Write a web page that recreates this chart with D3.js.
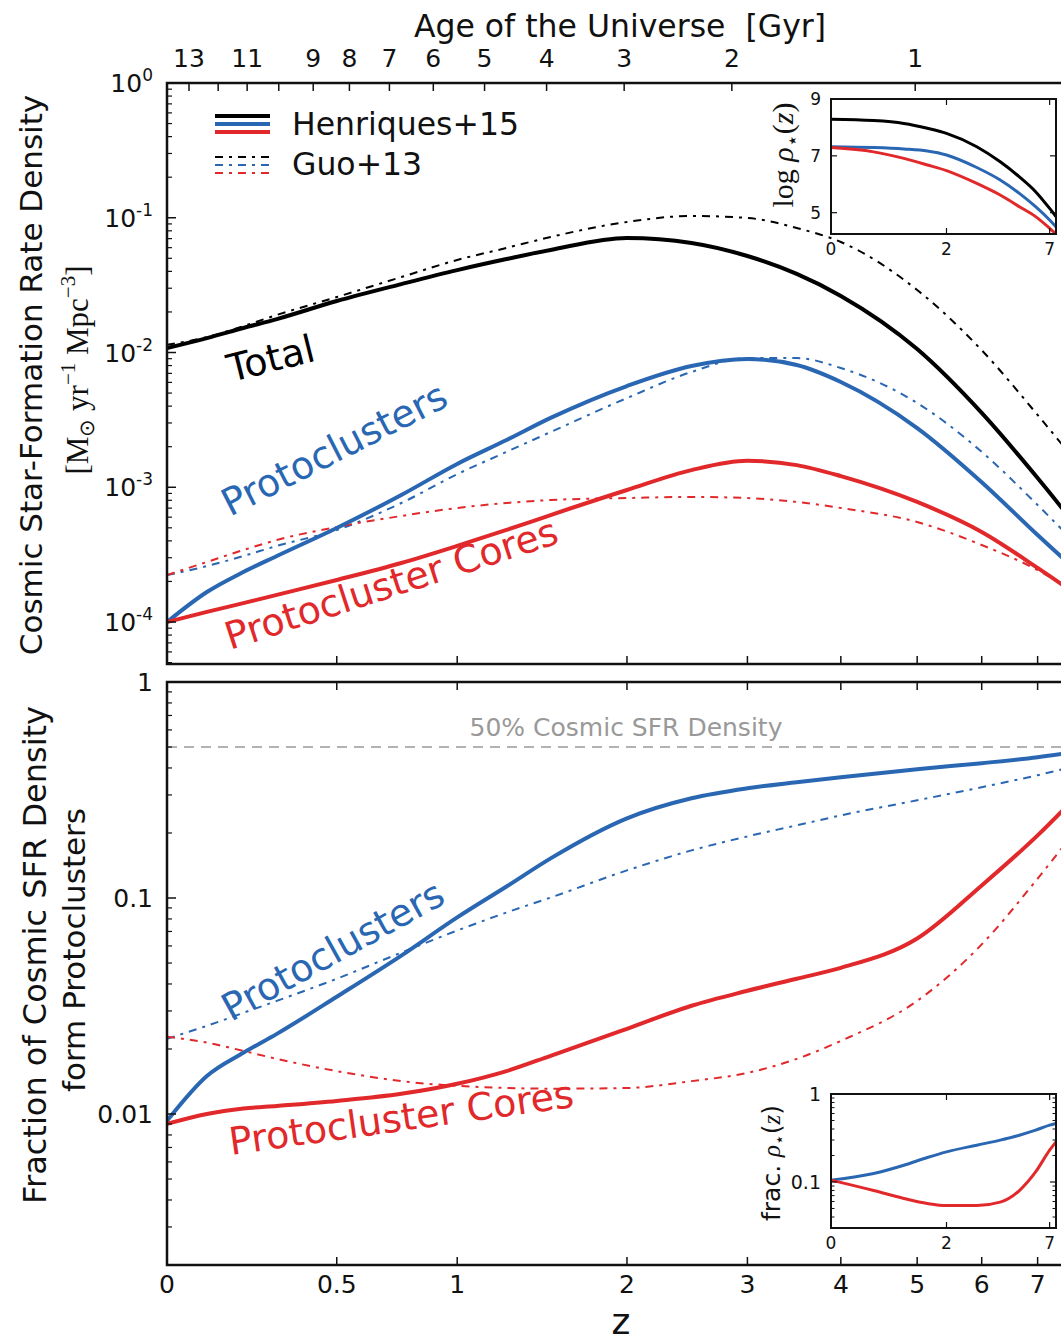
<!DOCTYPE html>
<html>
<head>
<meta charset="utf-8">
<script src="https://cdn.jsdelivr.net/npm/d3@7"></script>
<style>
body { margin: 0; background: #fff; }
text { font-family: "DejaVu Sans", sans-serif; fill: #111; }
</style>
</head>
<body>
<svg id="chart" width="1061" height="1343"></svg>
<script>
// redshift grid the curves were read at
var zGrid = [0, 0.1, 0.2, 0.3, 0.5, 0.75, 1, 1.25, 1.5, 2, 2.5, 3, 3.5, 4, 5, 6, 7, 8];

// cosmic SFR density [Msun/yr/Mpc^3]
var sfrTotalH15 = [0.0108, 0.0128, 0.0152, 0.0177, 0.0241, 0.0322, 0.0409, 0.0494, 0.0577, 0.0708, 0.0650, 0.0520, 0.0383, 0.0263, 0.0106, 0.00356, 0.00117, 0.00041];
var sfrTotalG13 = [0.0114, 0.0130, 0.0157, 0.0190, 0.0258, 0.0363, 0.0486, 0.0597, 0.0720, 0.0930, 0.1031, 0.0996, 0.0839, 0.0661, 0.0291, 0.0104, 0.00344, 0.00123];
var sfrProtoH15 = [1.0e-4, 1.67e-4, 2.35e-4, 3.09e-4, 4.99e-4, 8.76e-4, 1.49e-3, 2.24e-3, 3.27e-3, 5.64e-3, 7.94e-3, 8.95e-3, 8.07e-3, 6.04e-3, 2.75e-3, 1.09e-3, 4.42e-4, 2.05e-4];
var sfrProtoG13 = [2.23e-4, 2.60e-4, 3.09e-4, 3.67e-4, 4.82e-4, 7.64e-4, 1.25e-3, 1.83e-3, 2.57e-3, 4.59e-3, 7.17e-3, 9.10e-3, 9.10e-3, 7.67e-3, 4.22e-3, 1.83e-3, 7.38e-4, 3.14e-4];
var sfrCoresH15 = [1.0e-4, 1.19e-4, 1.38e-4, 1.59e-4, 2.05e-4, 2.74e-4, 3.67e-4, 4.82e-4, 6.22e-4, 9.54e-4, 1.34e-3, 1.57e-3, 1.46e-3, 1.21e-3, 7.78e-4, 4.66e-4, 2.52e-4, 1.41e-4];
var sfrCoresG13 = [2.23e-4, 2.79e-4, 3.42e-4, 4.06e-4, 5.07e-4, 6.12e-4, 7.02e-4, 7.64e-4, 8.04e-4, 8.32e-4, 8.47e-4, 8.32e-4, 7.78e-4, 7.02e-4, 5.52e-4, 3.73e-4, 2.43e-4, 1.46e-4];

// fraction of cosmic SFR density in protoclusters
var fracProtoH15 = [0.0093, 0.0150, 0.0192, 0.0235, 0.0349, 0.0541, 0.0813, 0.1130, 0.1526, 0.2339, 0.2897, 0.3222, 0.3436, 0.3624, 0.3947, 0.4209, 0.4487, 0.4832];
var fracProtoG13 = [0.0223, 0.0256, 0.0294, 0.0334, 0.0423, 0.0559, 0.0707, 0.0857, 0.1005, 0.1342, 0.1661, 0.1928, 0.2169, 0.2413, 0.2833, 0.3258, 0.3702, 0.4209];
var fracCoresH15 = [0.0090, 0.0100, 0.0106, 0.0109, 0.0115, 0.0124, 0.0138, 0.0158, 0.0186, 0.0248, 0.0317, 0.0372, 0.0423, 0.0475, 0.0649, 0.1143, 0.1950, 0.3326];
var fracCoresG13 = [0.0228, 0.0214, 0.0196, 0.0180, 0.0158, 0.0142, 0.0135, 0.0132, 0.0131, 0.0132, 0.0142, 0.0155, 0.0180, 0.0218, 0.0334, 0.0610, 0.1230, 0.2400];

// insets: stellar mass density and its fraction
var zInset = [0, 0.5, 1, 1.5, 2, 3, 4, 5, 6, 7, 7.5];
var massTotal = [8.285, 8.24, 8.14, 7.97, 7.79, 7.32, 6.79, 6.26, 5.74, 5.15, 4.86];
var massProto = [7.32, 7.29, 7.24, 7.17, 7.03, 6.59, 6.15, 5.68, 5.21, 4.74, 4.50];
var massCores = [7.29, 7.14, 6.91, 6.68, 6.48, 6.03, 5.62, 5.21, 4.86, 4.45, 4.25];
var fracMassProto = [0.105, 0.125, 0.155, 0.190, 0.220, 0.262, 0.299, 0.340, 0.388, 0.443, 0.463];
var fracMassCores = [0.105, 0.080, 0.065, 0.057, 0.054, 0.054, 0.059, 0.080, 0.130, 0.230, 0.286];

// axes
var zTicks = [0, 0.5, 1, 2, 3, 4, 5, 6, 7];
var ageTicks = [13, 12, 11, 10, 9, 8, 7, 6, 5, 4, 3, 2, 1];
var ageTickZ = [0.054, 0.130, 0.211, 0.306, 0.418, 0.546, 0.701, 0.889, 1.135, 1.476, 1.980, 2.854, 4.972];
var ageLabelled = [13, 11, 9, 8, 7, 6, 5, 4, 3, 2, 1];
var sfrTicks = [0, -1, -2, -3, -4];
var fracTicks = ['1', '0.1', '0.01'];

var BLUE = '#2a67b3', RED = '#e1282b';
var DASHDOT = '8,6,3,6';

var svg = d3.select('#chart');
var left = 167, right = 1063;
var top1 = 83, bot1 = 664, top2 = 682, bot2 = 1265;

var x = d3.scaleLog().domain([1, 8.5]).range([left, right]);
function xz(z) { return x(1 + z); }
var yTop = d3.scaleLog().domain([1, 4.88e-5]).range([top1, bot1]);
var yBot = d3.scaleLog().domain([1, 0.002]).range([top2, bot2]);

var defs = svg.append('defs');
defs.append('clipPath').attr('id', 'clipTop').append('rect')
	.attr('x', left).attr('y', top1).attr('width', right - left).attr('height', bot1 - top1);
defs.append('clipPath').attr('id', 'clipBot').append('rect')
	.attr('x', left).attr('y', top2).attr('width', right - left).attr('height', bot2 - top2);

function curve(g, xs, xFn, yFn, vals, color, dashed, width) {
	var line = d3.line()
		.x(function(d, i) { return xFn(xs[i]); })
		.y(function(d) { return yFn(d); })
		.curve(d3.curveMonotoneX);
	g.append('path')
		.datum(vals)
		.attr('d', line)
		.attr('fill', 'none')
		.attr('stroke', color)
		.attr('stroke-width', width)
		.attr('stroke-dasharray', dashed ? DASHDOT : null);
}

function logMinor(scale) {
	var d = scale.domain();
	var lo = Math.min(d[0], d[1]), hi = Math.max(d[0], d[1]);
	var out = [];
	for (var e = Math.floor(Math.log10(lo)); e < Math.ceil(Math.log10(hi)); e++) {
		for (var m = 2; m <= 9; m++) {
			var v = m * Math.pow(10, e);
			if (v >= lo && v <= hi) out.push(v);
		}
	}
	return out;
}

function ticksV(g, ys, xPos, len, w) {
	g.selectAll(null).data(ys).enter().append('line')
		.attr('x1', xPos).attr('x2', xPos + len)
		.attr('y1', function(d) { return d; }).attr('y2', function(d) { return d; })
		.attr('stroke', '#111').attr('stroke-width', w);
}
function ticksH(g, xs, yPos, len, w) {
	g.selectAll(null).data(xs).enter().append('line')
		.attr('x1', function(d) { return d; }).attr('x2', function(d) { return d; })
		.attr('y1', yPos).attr('y2', yPos + len)
		.attr('stroke', '#111').attr('stroke-width', w);
}

function curveLabel(tx, ty, angle, color, str) {
	svg.append('text')
		.attr('transform', 'translate(' + tx + ',' + ty + ') rotate(' + angle + ')')
		.style('font-size', '38px').style('fill', color)
		.text(str);
}

// ---------- top panel ----------
var gTop = svg.append('g');
var cTop = gTop.append('g').attr('clip-path', 'url(#clipTop)');
curve(cTop, zGrid, xz, yTop, sfrTotalG13, '#000', true, 2);
curve(cTop, zGrid, xz, yTop, sfrProtoG13, BLUE, true, 2);
curve(cTop, zGrid, xz, yTop, sfrCoresG13, RED, true, 2);
curve(cTop, zGrid, xz, yTop, sfrTotalH15, '#000', false, 4);
curve(cTop, zGrid, xz, yTop, sfrProtoH15, BLUE, false, 4);
curve(cTop, zGrid, xz, yTop, sfrCoresH15, RED, false, 4);

ticksV(gTop, sfrTicks.map(function(e) { return yTop(Math.pow(10, e)); }), left, 9, 1.5);
ticksV(gTop, logMinor(yTop).map(yTop), left, 5, 1.2);
ticksH(gTop, zTicks.map(xz), bot1, -8, 1.5);
ticksH(gTop, ageTickZ.map(xz), top1, 8, 1.5);

gTop.append('rect').attr('x', left).attr('y', top1).attr('width', right - left).attr('height', bot1 - top1)
	.attr('fill', 'none').attr('stroke', '#111').attr('stroke-width', 2.5);

var sfrLab = gTop.selectAll('text.ytick').data(sfrTicks).enter().append('text')
	.attr('class', 'ytick')
	.attr('x', 153)
	.attr('y', function(d) { return yTop(Math.pow(10, d)) + 9; })
	.attr('text-anchor', 'end')
	.style('font-size', '25px');
sfrLab.append('tspan').text('10');
sfrLab.append('tspan').attr('dy', -11).style('font-size', '17px').text(function(d) { return String(d); });

gTop.selectAll('text.age').data(ageLabelled).enter().append('text')
	.attr('class', 'age')
	.attr('x', function(d) { return xz(ageTickZ[ageTicks.indexOf(d)]); })
	.attr('y', 67)
	.attr('text-anchor', 'middle')
	.style('font-size', '25px')
	.text(function(d) { return d; });

svg.append('text').attr('x', 620).attr('y', 37).attr('text-anchor', 'middle')
	.style('font-size', '31.5px').style('white-space', 'pre')
	.text('Age of the Universe  [Gyr]');

svg.append('text').attr('transform', 'translate(42,375) rotate(-90)').attr('text-anchor', 'middle')
	.style('font-size', '31px').text('Cosmic Star-Formation Rate Density');
var units = svg.append('text').attr('transform', 'translate(88,370) rotate(-90)').attr('text-anchor', 'middle')
	.style('font-family', '"Liberation Serif", serif').style('font-size', '31px');
units.append('tspan').text('[M');
units.append('tspan').attr('dy', 6).style('font-size', '21px').text('⊙');
units.append('tspan').attr('dy', -6).text(' yr');
units.append('tspan').attr('dy', -13).style('font-size', '21px').text('−1');
units.append('tspan').attr('dy', 13).text(' Mpc');
units.append('tspan').attr('dy', -13).style('font-size', '21px').text('−3');
units.append('tspan').attr('dy', 13).text(']');

curveLabel(231, 382, -14, '#000', 'Total');
curveLabel(230, 517, -27, BLUE, 'Protoclusters');
curveLabel(230, 650, -18, RED, 'Protocluster Cores');

// legend
var legCols = ['#000', BLUE, RED];
var gLeg = svg.append('g');
gLeg.selectAll('line.sol').data(legCols).enter().append('line')
	.attr('x1', 215).attr('x2', 270)
	.attr('y1', function(d, i) { return 116 + i * 8; }).attr('y2', function(d, i) { return 116 + i * 8; })
	.attr('stroke', function(d) { return d; }).attr('stroke-width', 4);
gLeg.selectAll('line.dd').data(legCols).enter().append('line')
	.attr('x1', 215).attr('x2', 270)
	.attr('y1', function(d, i) { return 157 + i * 8; }).attr('y2', function(d, i) { return 157 + i * 8; })
	.attr('stroke', function(d) { return d; }).attr('stroke-width', 2)
	.attr('stroke-dasharray', DASHDOT);
gLeg.append('text').attr('x', 292).attr('y', 135).style('font-size', '31.5px').text('Henriques+15');
gLeg.append('text').attr('x', 292).attr('y', 175).style('font-size', '31.5px').text('Guo+13');

// ---------- bottom panel ----------
var gBot = svg.append('g');
var cBot = gBot.append('g').attr('clip-path', 'url(#clipBot)');
cBot.append('line').attr('x1', left).attr('x2', right).attr('y1', yBot(0.5)).attr('y2', yBot(0.5))
	.attr('stroke', '#999').attr('stroke-width', 1.5).attr('stroke-dasharray', '10,7');
curve(cBot, zGrid, xz, yBot, fracProtoG13, BLUE, true, 2);
curve(cBot, zGrid, xz, yBot, fracCoresG13, RED, true, 2);
curve(cBot, zGrid, xz, yBot, fracProtoH15, BLUE, false, 4);
curve(cBot, zGrid, xz, yBot, fracCoresH15, RED, false, 4);

gBot.append('text').attr('x', 626).attr('y', 736).attr('text-anchor', 'middle')
	.style('font-size', '25px').style('fill', '#999').text('50% Cosmic SFR Density');

ticksV(gBot, fracTicks.map(function(t) { return yBot(+t); }), left, 9, 1.5);
ticksV(gBot, logMinor(yBot).map(yBot), left, 5, 1.2);
ticksH(gBot, zTicks.map(xz), bot2, -8, 1.5);
ticksH(gBot, zTicks.map(xz), top2, 8, 1.5);

gBot.append('rect').attr('x', left).attr('y', top2).attr('width', right - left).attr('height', bot2 - top2)
	.attr('fill', 'none').attr('stroke', '#111').attr('stroke-width', 2.5);

gBot.selectAll('text.ytick').data(fracTicks).enter().append('text')
	.attr('class', 'ytick')
	.attr('x', 153)
	.attr('y', function(d) { return yBot(+d) + 9; })
	.attr('text-anchor', 'end')
	.style('font-size', '25px')
	.text(function(d) { return d; });

gBot.selectAll('text.ztick').data(zTicks).enter().append('text')
	.attr('class', 'ztick')
	.attr('x', function(d) { return xz(d); })
	.attr('y', 1293)
	.attr('text-anchor', 'middle')
	.style('font-size', '25px')
	.text(function(d) { return d; });

svg.append('text').attr('x', 621).attr('y', 1334).attr('text-anchor', 'middle').style('font-size', '36px').text('z');

svg.append('text').attr('transform', 'translate(46,955) rotate(-90)').attr('text-anchor', 'middle')
	.style('font-size', '32px').text('Fraction of Cosmic SFR Density');
svg.append('text').attr('transform', 'translate(85,950) rotate(-90)').attr('text-anchor', 'middle')
	.style('font-size', '31px').text('form Protoclusters');

curveLabel(231, 1022, -29, BLUE, 'Protoclusters');
curveLabel(231, 1155, -8, RED, 'Protocluster Cores');

// ---------- insets ----------
var xi = d3.scaleLog().domain([1, 8.5]).range([831, 1056]);
function xiz(z) { return xi(1 + z); }
var inZ = [0, 2, 7];

function insetBack(g, y0, y1) {
	g.append('rect').attr('x', 831).attr('y', y0).attr('width', 1056 - 831).attr('height', y1 - y0).attr('fill', '#fff');
}
function insetBox(g, y0, y1) {
	g.append('rect').attr('x', 831).attr('y', y0).attr('width', 1056 - 831).attr('height', y1 - y0)
		.attr('fill', 'none').attr('stroke', '#111').attr('stroke-width', 2);
	ticksH(g, inZ.map(xiz), y1, -6, 1.2);
	ticksH(g, inZ.map(xiz), y0, 6, 1.2);
	g.selectAll(null).data(inZ).enter().append('text')
		.attr('x', function(d) { return xiz(d); })
		.attr('y', y1 + 21)
		.attr('text-anchor', 'middle')
		.style('font-size', '17px')
		.text(function(d) { return d; });
}

var yIn1 = d3.scaleLinear().domain([4.25, 9]).range([234, 99]);
var gIn1 = svg.append('g');
insetBack(gIn1, 99, 234);
curve(gIn1, zInset, xiz, yIn1, massTotal, '#000', false, 3);
curve(gIn1, zInset, xiz, yIn1, massProto, BLUE, false, 3);
curve(gIn1, zInset, xiz, yIn1, massCores, RED, false, 3);
ticksV(gIn1, [5, 7, 9].map(yIn1), 831, 6, 1.2);
ticksV(gIn1, [5, 7, 9].map(yIn1), 1056, -6, 1.2);
insetBox(gIn1, 99, 234);
gIn1.selectAll('text.yt').data([5, 7, 9]).enter().append('text')
	.attr('x', 821).attr('y', function(d) { return yIn1(d) + 6; })
	.attr('text-anchor', 'end').style('font-size', '17px').text(function(d) { return d; });
var lab1 = gIn1.append('text').attr('transform', 'translate(793,155) rotate(-90)').attr('text-anchor', 'middle')
	.style('font-family', '"Liberation Serif", serif').style('font-size', '30px');
lab1.append('tspan').text('log ');
lab1.append('tspan').style('font-style', 'italic').text('ρ');
lab1.append('tspan').attr('dy', 6).style('font-size', '20px').text('⋆');
lab1.append('tspan').attr('dy', -6).text('(');
lab1.append('tspan').style('font-style', 'italic').text('z');
lab1.append('tspan').text(')');

var yIn2 = d3.scaleLog().domain([0.03, 1]).range([1228, 1094]);
var gIn2 = svg.append('g');
insetBack(gIn2, 1094, 1228);
curve(gIn2, zInset, xiz, yIn2, fracMassProto, BLUE, false, 3);
curve(gIn2, zInset, xiz, yIn2, fracMassCores, RED, false, 3);
ticksV(gIn2, [1, 0.1].map(yIn2), 831, 6, 1.2);
ticksV(gIn2, [1, 0.1].map(yIn2), 1056, -6, 1.2);
ticksV(gIn2, logMinor(yIn2).map(yIn2), 831, 3.5, 1);
ticksV(gIn2, logMinor(yIn2).map(yIn2), 1056, -3.5, 1);
insetBox(gIn2, 1094, 1228);
gIn2.selectAll('text.yt').data(['1', '0.1']).enter().append('text')
	.attr('x', 821).attr('y', function(d) { return yIn2(+d) + 7; })
	.attr('text-anchor', 'end').style('font-size', '19px').text(function(d) { return d; });
var lab2 = gIn2.append('text').attr('transform', 'translate(780,1163) rotate(-90)').attr('text-anchor', 'middle')
	.style('font-size', '25px');
lab2.append('tspan').text('frac. ');
lab2.append('tspan').style('font-family', '"Liberation Serif", serif').style('font-style', 'italic').text('ρ');
lab2.append('tspan').attr('dy', 5).style('font-size', '17px').text('⋆');
lab2.append('tspan').attr('dy', -5).text('(');
lab2.append('tspan').style('font-family', '"Liberation Serif", serif').style('font-style', 'italic').text('z');
lab2.append('tspan').text(')');
</script>
</body>
</html>
